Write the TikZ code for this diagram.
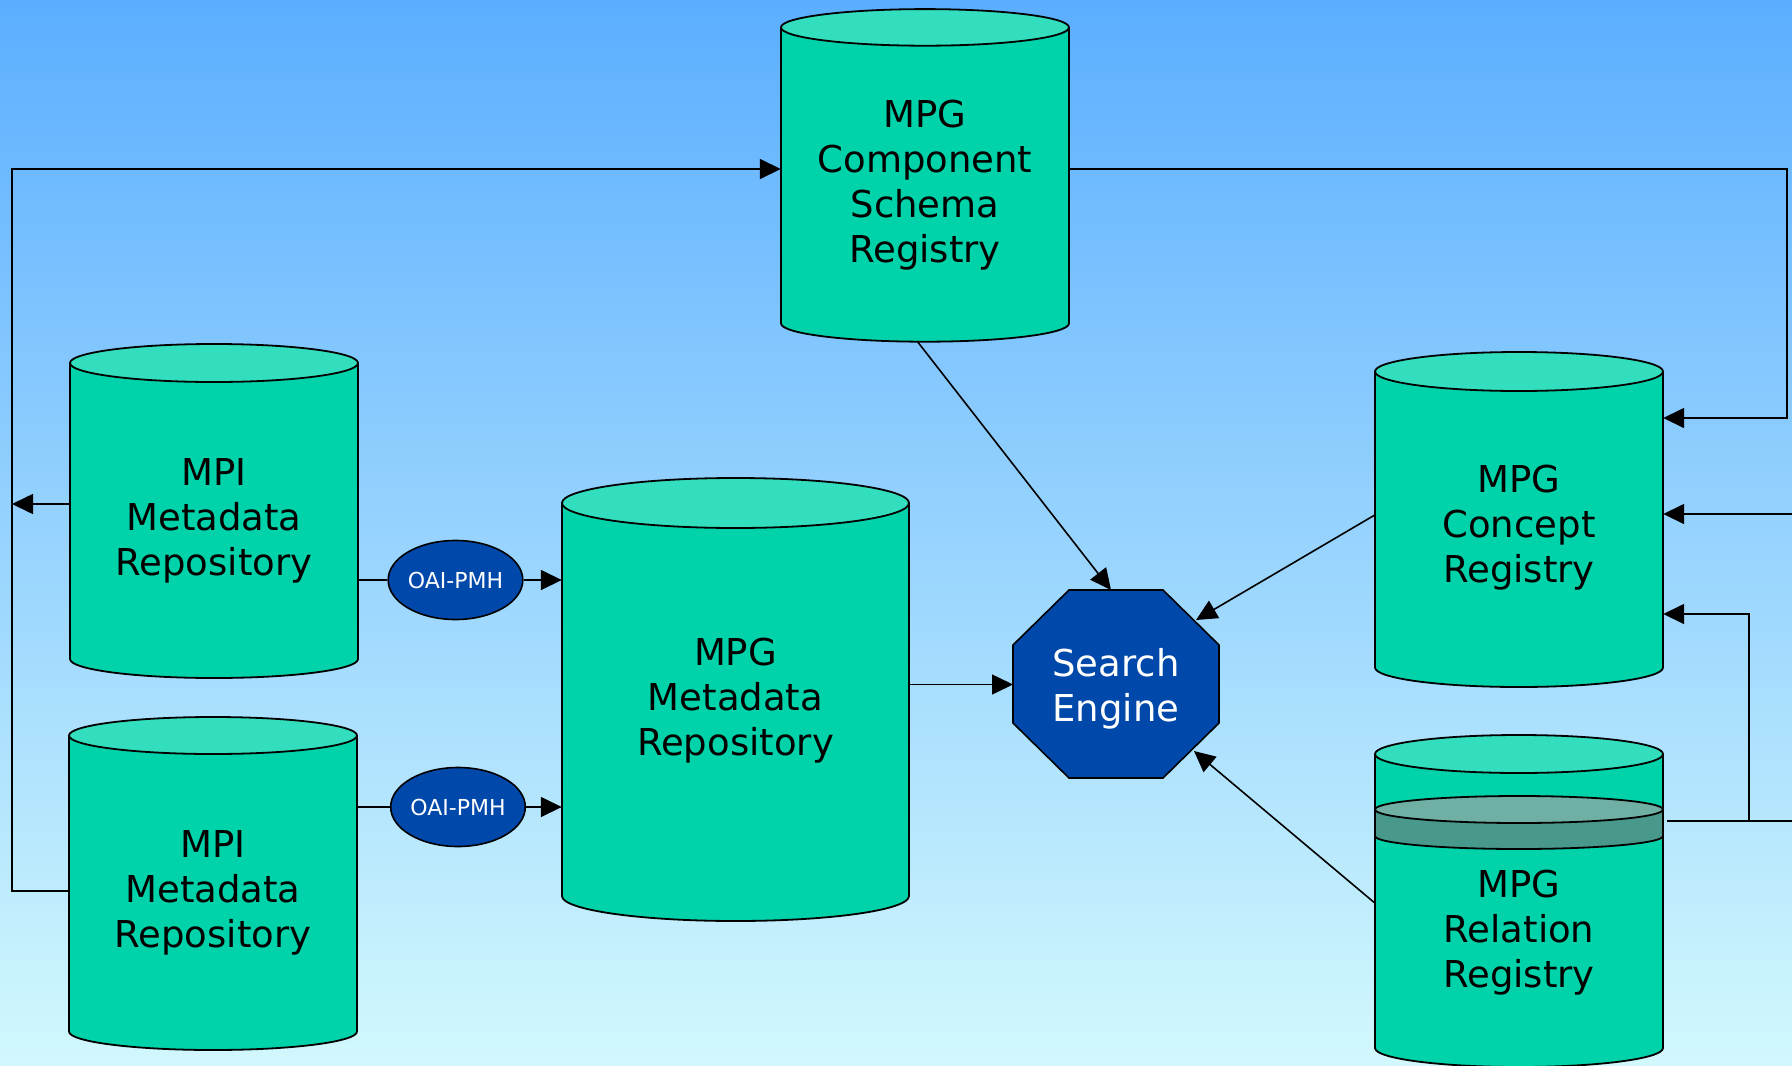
\documentclass[tikz,border=0pt]{standalone}
\usepackage{fontspec}
\setmainfont{DejaVu Sans}
\usepackage{xcolor}
\usepackage{tikz}
\definecolor{skytop}{RGB}{91, 174, 255}
\definecolor{skybottom}{RGB}{210, 248, 253}
\definecolor{regteal}{RGB}{0, 210, 170}
\definecolor{regtealtop}{RGB}{50, 222, 190}
\definecolor{bandtop}{RGB}{112, 176, 164}
\definecolor{bandside}{RGB}{72, 152, 140}
\definecolor{engineblue}{RGB}{0, 72, 170}
\usetikzlibrary{shapes.geometric, arrows.meta, positioning, calc}

% cylinder: center x, half width, top y, bottom y, end radius
\newcommand{\regcyl}[5]{%
    \draw[cylbody] (#1-#2,#3) -- (#1-#2,#4)
        arc[start angle=180, end angle=360, x radius=#2pt, y radius=#5pt] -- (#1+#2,#3);
    \draw[cyltop] (#1,#3) ellipse[x radius=#2pt, y radius=#5pt];
}

\tikzset{
    link/.style={draw=black, line width=1.6pt},
    flow/.style={link, -{Triangle[length=21pt, width=20pt]}},
    cylbody/.style={draw=black, line width=1.8pt, fill=regteal},
    cyltop/.style={draw=black, line width=1.8pt, fill=regtealtop},
    regtext/.style={font=\fontsize{37}{45}\selectfont, align=center,
        minimum width=288pt, inner sep=0pt},
    proto/.style={ellipse, draw=black, line width=1.6pt, fill=engineblue,
        text=white, font=\fontsize{22}{26}\selectfont,
        minimum width=133pt, minimum height=79pt, inner sep=0pt},
    engine/.style={draw=black, line width=1.6pt, fill=engineblue},
    enginetext/.style={text=white, font=\fontsize{37}{45}\selectfont,
        align=center, inner sep=0pt}
}

\begin{document}
\begin{tikzpicture}[x=1pt, y=-1pt]
    \useasboundingbox (0,0) rectangle (1792,1066);
    \clip (0,0) rectangle (1792,1066);
    \fill[top color=skytop, bottom color=skybottom] (0,0) rectangle (1792,1066);

    % registries
    \regcyl{925}{144}{27.4}{323.4}{18.3}
    \regcyl{214}{144}{363}{659}{19}
    \regcyl{213}{144}{735.5}{1031.5}{18.5}
    \regcyl{735.5}{173.5}{503}{896}{25}
    \regcyl{1519}{144}{371.5}{667.5}{19.5}
    \regcyl{1519}{144}{754}{1048}{19}
    % band on the relation registry
    \draw[cylbody, fill=bandside] (1375,809.5) -- (1375,836)
        arc[start angle=180, end angle=360, x radius=144pt, y radius=13pt] -- (1663,809.5);
    \draw[cyltop, fill=bandtop] (1519,809.5) ellipse[x radius=144pt, y radius=13.5pt];

    % search engine octagon
    \draw[engine] (1069,590) -- (1163,590) -- (1219,645) -- (1219,723)
        -- (1163,778) -- (1069,778) -- (1013,723) -- (1013,645) -- cycle;

    \node[regtext] (cmp) at (925,185.5) {MPG\\Component\\Schema\\Registry};
    \node[regtext] (mpi1) at (214,520.5) {MPI\\Metadata\\Repository};
    \node[regtext] (mpi2) at (213,892.5) {MPI\\Metadata\\Repository};
    \node[regtext, minimum width=347pt] (meta) at (735.5,700.5) {MPG\\Metadata\\Repository};
    \node[regtext] (concept) at (1519,527.5) {MPG\\Concept\\Registry};
    \node[regtext] (rel) at (1519,932.5) {MPG\\Relation\\Registry};

    \node[enginetext] (se) at (1116,688.5) {Search\\Engine};
    \node[proto] (oai1) at (455.5,580) {OAI-PMH};
    \node[proto] (oai2) at (458,807) {OAI-PMH};

    \coordinate (se-west) at (1013,684.5);
    \coordinate (se-top) at (1111,590);
    \coordinate (se-ne) at (1196,620);
    \coordinate (se-se) at (1194,751);
    \coordinate (leftrail) at (12,169);
    \coordinate (rightrail) at (1787,169);
    \coordinate (cmpfoot) at (917,341);
    \coordinate (mpi1out) at ([yshift=16.5pt]mpi1.west);
    \coordinate (relout) at ([xshift=4pt, yshift=111.5pt]rel.east);
    \coordinate (relknee) at (1749,614);
    \coordinate (edgeR) at (1792,514);
    \coordinate (edgeR2) at (relout -| edgeR);

    % harvesting
    \draw[link] (mpi1.east |- oai1) -- (oai1);
    \draw[flow] (oai1) -- (oai1 -| meta.west);
    \draw[link] (mpi2.east |- oai2) -- (oai2);
    \draw[flow] (oai2) -- (oai2 -| meta.west);
    \draw[flow] (meta.east |- se-west) -- (se-west);

    % into the search engine
    \draw[flow] (cmpfoot) -- (se-top);
    \draw[flow] ([yshift=12.5pt]concept.west) -- (se-ne);
    \draw[flow] ([yshift=29.5pt]rel.west) -- (se-se);

    % left loop
    \draw[flow] ([yshift=1.5pt]mpi2.west) -| (leftrail) -- ([yshift=16.5pt]cmp.west);
    \draw[flow] (mpi1out) -- (mpi1out -| leftrail);

    % right loop
    \draw[flow] ([yshift=16.5pt]cmp.east) -- (rightrail) |- ([yshift=109.5pt]concept.east);
    \draw[flow] (edgeR) -- (edgeR -| concept.east);
    \draw[flow] (relout) -| (relknee) -- (relknee -| concept.east);
    \draw[link] (relout) -- (edgeR2);
\end{tikzpicture}
\end{document}
